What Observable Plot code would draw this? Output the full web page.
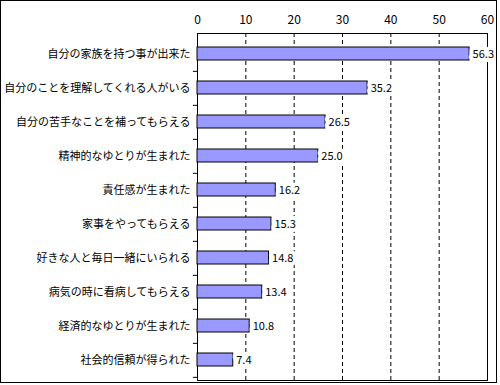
<!DOCTYPE html>
<html>
<head>
<meta charset="utf-8">
<script src="https://cdn.jsdelivr.net/npm/d3@7"></script>
<script src="https://cdn.jsdelivr.net/npm/@observablehq/plot@0.6"></script>
<style>
  html, body { margin: 0; padding: 0; background: #fff; }
  #chart { width: 500px; height: 385px; }
</style>
</head>
<body>
<div id="chart"></div>
<script>
const categories = [
  "自分の家族を持つ事が出来た",
  "自分のことを理解してくれる人がいる",
  "自分の苦手なことを補ってもらえる",
  "精神的なゆとりが生まれた",
  "責任感が生まれた",
  "家事をやってもらえる",
  "好きな人と毎日一緒にいられる",
  "病気の時に看病してもらえる",
  "経済的なゆとりが生まれた",
  "社会的信頼が得られた"
];
const values = [56.3, 35.2, 26.5, 25.0, 16.2, 15.3, 14.8, 13.4, 10.8, 7.4];
const xTicks = [0, 10, 20, 30, 40, 50, 60];
const gridTicks = [10, 20, 30, 40, 50];

const data = categories.map((c, i) => ({category: c, value: values[i]}));
const font = "'MS PGothic', 'Noto Sans CJK JP', sans-serif";

const chart = Plot.plot({
  width: 500,
  height: 385,
  marginLeft: 197,
  marginRight: 13,
  marginTop: 33,
  marginBottom: 5,
  style: {fontFamily: font, fontSize: "11px", color: "#000", background: "#fff"},
  x: {domain: [0, 60], axis: null, label: null},
  y: {domain: categories, paddingInner: 0.62, paddingOuter: 0.31, axis: null, label: null},
  marks: [
    Plot.gridX(gridTicks, {stroke: "#000", strokeOpacity: 1, strokeDasharray: "4,3"}),
    Plot.frame({stroke: "#000"}),
    Plot.barX(data, {y: "category", x: "value", fill: "#9999FF", stroke: "#000", strokeWidth: 1}),
    Plot.text(data, {y: "category", x: "value", text: d => d.value.toFixed(1), textAnchor: "start", dx: 3, fontSize: 11, fill: "#000", stroke: "#fff", strokeWidth: 8, paintOrder: "stroke"}),
    Plot.ruleY(categories, {y: d => d, x1: -0.85, x2: 0, dy: 17.35, stroke: "#000"}),
    Plot.axisX(xTicks, {anchor: "top", tickSize: 0, tickPadding: 10, fontSize: 12, tickFormat: d => d, label: null}),
    Plot.axisY({anchor: "left", tickSize: 0, tickPadding: 7, fontSize: 11, label: null})
  ]
});

d3.select(chart).append("rect")
  .attr("x", 0.5).attr("y", 0.5)
  .attr("width", 496).attr("height", 382)
  .attr("fill", "none").attr("stroke", "#000");

document.getElementById("chart").appendChild(chart);
</script>
</body>
</html>
